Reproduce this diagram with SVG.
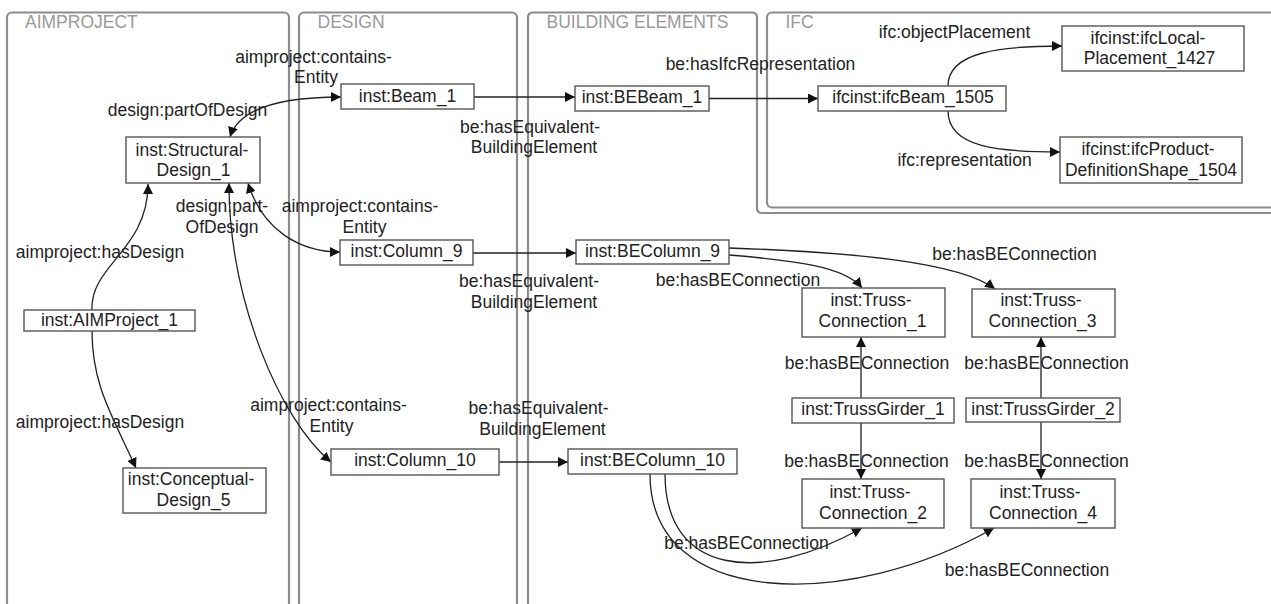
<svg xmlns="http://www.w3.org/2000/svg" width="1271" height="604" viewBox="0 0 1271 604">
<style>
text{font-family:"Liberation Sans",Arial,sans-serif;font-size:17.5px;fill:#222}
.lane{fill:none;stroke:#8c8c8c;stroke-width:2.2}
.title{fill:#9a9a9a}
.node rect{fill:#fff;stroke:#555;stroke-width:1.4}
.node text,.lbl{text-anchor:middle}
.edge{fill:none;stroke:#222;stroke-width:1.3;marker-end:url(#arr)}
.bi{marker-start:url(#arrs)}
</style>
<defs>
<marker id="arr" markerUnits="userSpaceOnUse" markerWidth="10" markerHeight="10" refX="10" refY="5" orient="auto"><path d="M0,0 L10,5 L0,10 z" fill="#111"/></marker>
<marker id="arrs" markerUnits="userSpaceOnUse" markerWidth="10" markerHeight="10" refX="10" refY="5" orient="auto-start-reverse"><path d="M0,0 L10,5 L0,10 z" fill="#111"/></marker>
</defs>
<rect width="1271" height="604" fill="#fff"/>
<g id="lanes">
<rect class="lane" x="7" y="12.5" width="282" height="640" rx="5"/>
<rect class="lane" x="299" y="12.5" width="218" height="640" rx="5"/>
<path class="lane" d="M528,650 V17.5 Q528,12.5 533,12.5 H752 Q757,12.5 757,17.5 V208 Q757,213 762,213 H1285"/>
<rect class="lane" x="767" y="12.5" width="520" height="195" rx="5"/>
<text class="title" x="25" y="28.3">AIMPROJECT</text>
<text class="title" x="317.5" y="28.3">DESIGN</text>
<text class="title" x="546.5" y="28.3">BUILDING ELEMENTS</text>
<text class="title" x="785.5" y="28.3">IFC</text>
</g>
<g id="connectors">
<path class="edge" d="M92,310 C90,265 148,250 148,184"/>
<path class="edge" d="M92,331 C92,385 112,415 136,468"/>
<path class="edge bi" d="M230,137 C240,105 290,97 341,97"/>
<path class="edge bi" d="M248,183 C262,230 300,252 340,252"/>
<path class="edge bi" d="M229,183 C229,300 280,420 331,462"/>
<path class="edge" d="M474,97 H575"/>
<path class="edge" d="M473,253 H576"/>
<path class="edge" d="M499,462 H568"/>
<path class="edge" d="M709,98.5 H818"/>
<path class="edge" d="M948,86 C948,52 1000,46 1062,46"/>
<path class="edge" d="M948,111 C948,148 1000,152 1060,152"/>
<path class="edge" d="M729,255 C790,260 845,266 862,288"/>
<path class="edge" d="M729,248 C850,252 960,262 995,289"/>
<path class="edge" d="M861,398 V337"/>
<path class="edge" d="M1041,398 V337"/>
<path class="edge" d="M861,423 V479"/>
<path class="edge" d="M1041,422 V479"/>
<path class="edge" d="M665,474 C665,575 760,585 862,528"/>
<path class="edge" d="M650,474 C650,610 850,610 994,528"/>
<text class="lbl" x="100" y="258">aimproject:hasDesign</text>
<text class="lbl" x="100" y="428">aimproject:hasDesign</text>
<text class="lbl" x="187.5" y="116">design:partOfDesign</text>
<text class="lbl" x="313.5" y="63.3">aimproject:contains-</text>
<text class="lbl" x="316" y="83.3">Entity</text>
<text class="lbl" x="222" y="212.3">design:part-</text>
<text class="lbl" x="222" y="232.7">OfDesign</text>
<text class="lbl" x="360" y="212.3">aimproject:contains-</text>
<text class="lbl" x="364.5" y="233.3">Entity</text>
<text class="lbl" x="328.5" y="410.7">aimproject:contains-</text>
<text class="lbl" x="331.5" y="431.7">Entity</text>
<text class="lbl" x="530" y="132.7">be:hasEquivalent-</text>
<text class="lbl" x="534" y="153.3">BuildingElement</text>
<text class="lbl" x="529" y="287.3">be:hasEquivalent-</text>
<text class="lbl" x="534" y="308.3">BuildingElement</text>
<text class="lbl" x="538.5" y="414">be:hasEquivalent-</text>
<text class="lbl" x="542.5" y="435">BuildingElement</text>
<text class="lbl" x="760.5" y="70">be:hasIfcRepresentation</text>
<text class="lbl" x="954.5" y="38.3">ifc:objectPlacement</text>
<text class="lbl" x="964.5" y="165.7">ifc:representation</text>
<text class="lbl" x="738" y="285.7">be:hasBEConnection</text>
<text class="lbl" x="1014.5" y="260">be:hasBEConnection</text>
<text class="lbl" x="867" y="369">be:hasBEConnection</text>
<text class="lbl" x="1046.5" y="369">be:hasBEConnection</text>
<text class="lbl" x="866.5" y="467.3">be:hasBEConnection</text>
<text class="lbl" x="1046.5" y="467.3">be:hasBEConnection</text>
<text class="lbl" x="746.5" y="549">be:hasBEConnection</text>
<text class="lbl" x="1027" y="575.7">be:hasBEConnection</text>
</g>
<g id="n_aimproject1" class="node"><rect x="24" y="310" width="171" height="21"/><text x="109.5" y="325.5">inst:AIMProject_1</text></g>
<g id="n_structdesign1" class="node"><rect x="126" y="137" width="134" height="46"/><text x="192" y="155.5">inst:Structural-</text><text x="193.5" y="176">Design_1</text></g>
<g id="n_conceptdesign5" class="node"><rect x="123" y="468" width="143" height="45"/><text x="191" y="485">inst:Conceptual-</text><text x="193.5" y="505.5">Design_5</text></g>
<g id="n_beam1" class="node"><rect x="341" y="84" width="133" height="25"/><text x="407.5" y="102">inst:Beam_1</text></g>
<g id="n_column9" class="node"><rect x="340" y="240" width="133" height="25"/><text x="406.5" y="257">inst:Column_9</text></g>
<g id="n_column10" class="node"><rect x="331" y="449" width="168" height="26"/><text x="415" y="466">inst:Column_10</text></g>
<g id="n_bebeam1" class="node"><rect x="575" y="86" width="134" height="25"/><text x="642" y="103">inst:BEBeam_1</text></g>
<g id="n_becolumn9" class="node"><rect x="576" y="240" width="153" height="24"/><text x="652.5" y="256.7">inst:BEColumn_9</text></g>
<g id="n_becolumn10" class="node"><rect x="568" y="449" width="169" height="25"/><text x="652.5" y="466">inst:BEColumn_10</text></g>
<g id="n_ifcbeam1505" class="node"><rect x="818" y="86" width="188" height="25"/><text x="913" y="102.5">ifcinst:ifcBeam_1505</text></g>
<g id="n_localplacement1427" class="node"><rect x="1062" y="26" width="182" height="45"/><text x="1148" y="43.5">ifcinst:ifcLocal-</text><text x="1149.5" y="64">Placement_1427</text></g>
<g id="n_pds1504" class="node"><rect x="1060" y="137" width="182" height="46"/><text x="1148" y="155">ifcinst:ifcProduct-</text><text x="1151" y="176">DefinitionShape_1504</text></g>
<g id="n_tc1" class="node"><rect x="802" y="288" width="143" height="49"/><text x="871" y="306">inst:Truss-</text><text x="872.5" y="326.7">Connection_1</text></g>
<g id="n_tc3" class="node"><rect x="972" y="289" width="143" height="48"/><text x="1041" y="306">inst:Truss-</text><text x="1042.5" y="327">Connection_3</text></g>
<g id="n_tg1" class="node"><rect x="792" y="398" width="162" height="25"/><text x="873" y="415">inst:TrussGirder_1</text></g>
<g id="n_tg2" class="node"><rect x="966" y="398" width="154" height="24"/><text x="1043" y="415">inst:TrussGirder_2</text></g>
<g id="n_tc2" class="node"><rect x="802" y="479" width="142" height="49"/><text x="870" y="498.3">inst:Truss-</text><text x="873" y="518.5">Connection_2</text></g>
<g id="n_tc4" class="node"><rect x="971" y="479" width="144" height="49"/><text x="1040" y="498.3">inst:Truss-</text><text x="1043" y="518.5">Connection_4</text></g>
</svg>
